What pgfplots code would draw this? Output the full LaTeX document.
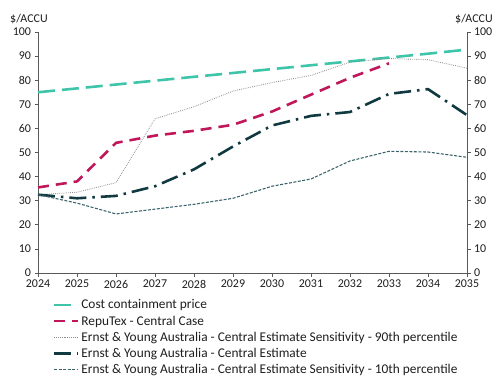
\documentclass[border=0pt]{standalone}
\usepackage{pgfplots}
\pgfplotsset{compat=1.18}
\usepackage{fontspec}
\setmainfont{Carlito}
\usetikzlibrary{calc}
\definecolor{cteal}{RGB}{62,196,168}
\definecolor{crim}{RGB}{192,22,90}
\definecolor{cdark}{RGB}{16,58,64}
\definecolor{cten}{RGB}{60,100,108}
\definecolor{cgr}{RGB}{140,140,140}
\definecolor{txt}{RGB}{30,30,30}
\begin{document}
\begin{tikzpicture}
\begin{axis}[name=ax,
  scale only axis, width=429bp, height=241bp,
  xmin=2024, xmax=2035, ymin=0, ymax=100,
  xtick={2024,...,2035}, ytick={0,10,...,100},
  xticklabel style={/pgf/number format/1000 sep={}},
  /pgf/number format/assume math mode=true,
  axis x line*=bottom, axis y line*=left,
  axis line style={draw=black!65, line width=0.8pt},
  tick style={draw=black!65, line width=0.8pt},
  tick align=outside, major tick length=3.5bp,
  tick label style={font=\fontsize{12}{14}\selectfont, text=txt},
  x axis line style={-}, y axis line style={-},
  clip=false,
  legend style={at={(0.027,-0.093)}, anchor=north west, draw=none, fill=none,
    font=\fontsize{13.4}{15}\selectfont, text=txt, row sep=1.5bp,
    cells={anchor=west}},
  legend cell align=left,
  legend image code/.code={\draw[#1] (0bp,0bp) -- (24bp,0bp);},
]
\node[anchor=south west, font=\fontsize{12}{14}\selectfont, text=txt, inner sep=0pt] at ([xshift=-28bp,yshift=8bp]rel axis cs:0,1) {\$/ACCU};
\addplot[cteal, line width=2.6pt, dash pattern=on 17bp off 7bp] coordinates {
(2024,75) (2025,76.6) (2026,78.2) (2027,79.8) (2028,81.4) (2029,83.0) (2030,84.6) (2031,86.2) (2032,87.8) (2033,89.4) (2034,91.0) (2035,92.7)};
\addlegendentry{Cost containment price}
\addplot[crim, line width=2.6pt, dash pattern=on 11bp off 7bp] coordinates {
(2024,35.5) (2025,38) (2026,54) (2027,57) (2028,59) (2029,61.5) (2030,67) (2031,74) (2032,81) (2033,87)};
\addlegendentry{RepuTex  - Central Case}
\addplot[cgr, line width=0.9pt, dash pattern=on 0.7bp off 1.2bp] coordinates {
(2024,32.5) (2025,33.5) (2026,37.5) (2027,64) (2028,69) (2029,75.5) (2030,79) (2031,82) (2032,87.5) (2033,89) (2034,88.5) (2035,85)};
\addlegendentry{Ernst \& Young Australia - Central Estimate Sensitivity - 90th percentile}
\addplot[cdark, line width=2.6pt, dash pattern=on 17bp off 6bp on 2.5bp off 6bp] coordinates {
(2024,32.5) (2025,31) (2026,32) (2027,36) (2028,43) (2029,52.5) (2030,61.2) (2031,65.2) (2032,66.8) (2033,74.3) (2034,76.3) (2035,65.5)};
\addlegendentry{Ernst \& Young Australia - Central Estimate}
\addplot[cten, line width=1.1pt, dash pattern=on 3bp off 1.5bp] coordinates {
(2024,32.5) (2025,29) (2026,24.5) (2027,26.5) (2028,28.5) (2029,31) (2030,36) (2031,39) (2032,46.5) (2033,50.5) (2034,50.2) (2035,48)};
\addlegendentry{Ernst \& Young Australia - Central Estimate Sensitivity - 10th percentile}
\end{axis}
\begin{axis}[
  scale only axis, width=429bp, height=241bp,
  xmin=2024, xmax=2035, ymin=0, ymax=100,
  ytick={0,10,...,100}, xtick=\empty,
  /pgf/number format/assume math mode=true,
  axis x line=none, axis y line*=right,
  axis line style={draw=black!65, line width=0.8pt},
  tick style={draw=black!65, line width=0.8pt},
  tick align=outside, major tick length=3.5bp,
  tick label style={font=\fontsize{12}{14}\selectfont, text=txt},
  y axis line style={-}, clip=false,
]
\node[anchor=south west, font=\fontsize{12}{14}\selectfont, text=txt, inner sep=0pt] at ([xshift=-12bp,yshift=8bp]rel axis cs:1,1) {\$/ACCU};
\end{axis}
\pgfresetboundingbox
\path ($(ax.south west)+(-38bp,-108bp)$) rectangle ++(497bp,381bp);
\end{tikzpicture}
\end{document}
